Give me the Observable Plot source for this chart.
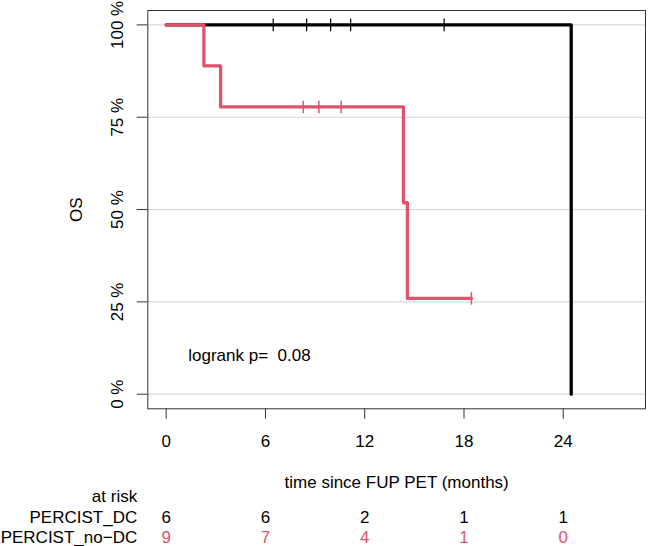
<!DOCTYPE html>
<html>
<head>
<meta charset="utf-8">
<script src="https://cdn.jsdelivr.net/npm/d3@7"></script>
<script src="https://cdn.jsdelivr.net/npm/@observablehq/plot@0.6"></script>
<style>
  body { margin: 0; background: #fff; }
  svg { display: block; }
</style>
</head>
<body>
<div id="chart"></div>
<script>
// Groups and their colours
const groups = ["PERCIST_DC", "PERCIST_no\u2212DC"];
const colors = ["#000000", "#DF536B"];

// Kaplan–Meier steps: time (months) and overall survival (%)
const dcTimes = [0, 24.48];
const dcSurv = [100, 0];
const nodcTimes = [0, 2.28, 3.29, 14.34, 14.58, 18.45];
const nodcSurv = [100, 88.89, 77.78, 51.85, 25.93, 25.93];

// Censored observations
const dcCensorTimes = [6.47, 8.49, 9.94, 11.15, 16.8];
const dcCensorSurv = [100, 100, 100, 100, 100];
const nodcCensorTimes = [8.29, 9.23, 10.58, 18.45];
const nodcCensorSurv = [77.78, 77.78, 77.78, 25.93];

// Numbers at risk
const riskTimes = [0, 6, 12, 18, 24];
const dcAtRisk = [6, 6, 2, 1, 1];
const nodcAtRisk = [9, 7, 4, 1, 0];

// Axis ticks and annotation text
const xTicks = [0, 6, 12, 18, 24];
const yTicks = [0, 25, 50, 75, 100];
const xTitle = "time since FUP PET (months)";
const yTitle = "OS";
const pValueText = "logrank p=  0.08";
const riskTitle = "at risk";

const steps = (ts, ss) => ts.map((t, i) => ({t, s: ss[i]}));
const dcSteps = steps(dcTimes, dcSurv);
const nodcSteps = steps(nodcTimes, nodcSurv);
const dcCensor = steps(dcCensorTimes, dcCensorSurv);
const nodcCensor = steps(nodcCensorTimes, nodcCensorSurv);
const dcRisk = riskTimes.map((t, i) => ({t, n: dcAtRisk[i]}));
const nodcRisk = riskTimes.map((t, i) => ({t, n: nodcAtRisk[i]}));

// Vertical bar symbol for censor marks
const vbar = {
  draw(ctx, size) {
    const h = Math.sqrt(size / Math.PI);
    ctx.moveTo(0, -h);
    ctx.lineTo(0, h);
  }
};

const font = "'Liberation Sans', Arial, Helvetica, sans-serif";
const fs = 17;

const chart = Plot.plot({
  width: 649,
  height: 546,
  marginLeft: 147.3,
  marginRight: 4,
  marginTop: 10,
  marginBottom: 137.7,
  style: {fontFamily: font, fontSize: fs + "px", background: "#fff", color: "#000"},
  x: {domain: [-1.11, 28.97], axis: null},
  y: {domain: [-3.95, 103.9], axis: null},
  marks: [
    Plot.gridY(yTicks, {stroke: "#d9d9d9", strokeOpacity: 1, strokeWidth: 1.2}),
    Plot.frame({stroke: "#333", strokeWidth: 1}),
    // y axis ticks and rotated labels
    Plot.axisY(yTicks, {anchor: "left", tickSize: 10.6, tickFormat: () => "", label: null, stroke: "#333"}),
    Plot.text(yTicks, {
      y: d => d, text: d => `${d} %`, frameAnchor: "left", dx: -30.5,
      rotate: -90, textAnchor: "middle", lineAnchor: "middle", fontSize: fs, fill: "#000"
    }),
    Plot.text([yTitle], {
      text: d => d, frameAnchor: "left", dx: -71.3, rotate: -90,
      textAnchor: "middle", lineAnchor: "middle", fontSize: fs, fill: "#000"
    }),
    // x axis
    Plot.axisX(xTicks, {anchor: "bottom", tickSize: 10.5, tickPadding: 16, label: null, stroke: "#333", fontSize: fs, fill: "#000"}),
    Plot.text([xTitle], {
      text: d => d, frameAnchor: "bottom", dy: 73.4, lineAnchor: "middle", fontSize: fs, fill: "#000"
    }),
    // survival curves
    Plot.line(dcSteps, {x: "t", y: "s", curve: "step-after", stroke: colors[0], strokeWidth: 3.3, strokeLinecap: "round", strokeLinejoin: "round"}),
    Plot.dot(dcCensor, {x: "t", y: "s", symbol: vbar, r: 6.4, stroke: colors[0], strokeWidth: 1.2, fill: "none"}),
    Plot.line(nodcSteps, {x: "t", y: "s", curve: "step-after", stroke: colors[1], strokeWidth: 3.3, strokeLinecap: "round", strokeLinejoin: "round"}),
    Plot.dot(nodcCensor, {x: "t", y: "s", symbol: vbar, r: 6.2, stroke: colors[1], strokeWidth: 1.5, fill: "none"}),
    // log-rank annotation
    Plot.text([pValueText], {
      text: d => d, frameAnchor: "bottom-left", dx: 40.4, dy: -53.3,
      textAnchor: "start", lineAnchor: "middle", fontSize: fs, fill: "#000"
    }),
    // risk table
    Plot.text([riskTitle], {
      text: d => d, frameAnchor: "bottom-left", dx: -10.6, dy: 87.5,
      textAnchor: "end", lineAnchor: "middle", fontSize: fs, fill: "#000"
    }),
    Plot.text(groups, {
      text: d => d, frameAnchor: "bottom-left", dx: -10.6,
      dy: 108.4, textAnchor: "end", lineAnchor: "middle", fontSize: fs, fill: "#000",
      filter: (d, i) => i === 0
    }),
    Plot.text(groups, {
      text: d => d, frameAnchor: "bottom-left", dx: -10.6,
      dy: 128.4, textAnchor: "end", lineAnchor: "middle", fontSize: fs, fill: "#000",
      filter: (d, i) => i === 1
    }),
    Plot.text(dcRisk, {x: "t", text: "n", frameAnchor: "bottom", dy: 108.4, lineAnchor: "middle", fontSize: fs, fill: colors[0]}),
    Plot.text(nodcRisk, {x: "t", text: "n", frameAnchor: "bottom", dy: 128.4, lineAnchor: "middle", fontSize: fs, fill: colors[1]})
  ]
});

document.getElementById("chart").appendChild(chart);
</script>
</body>
</html>
